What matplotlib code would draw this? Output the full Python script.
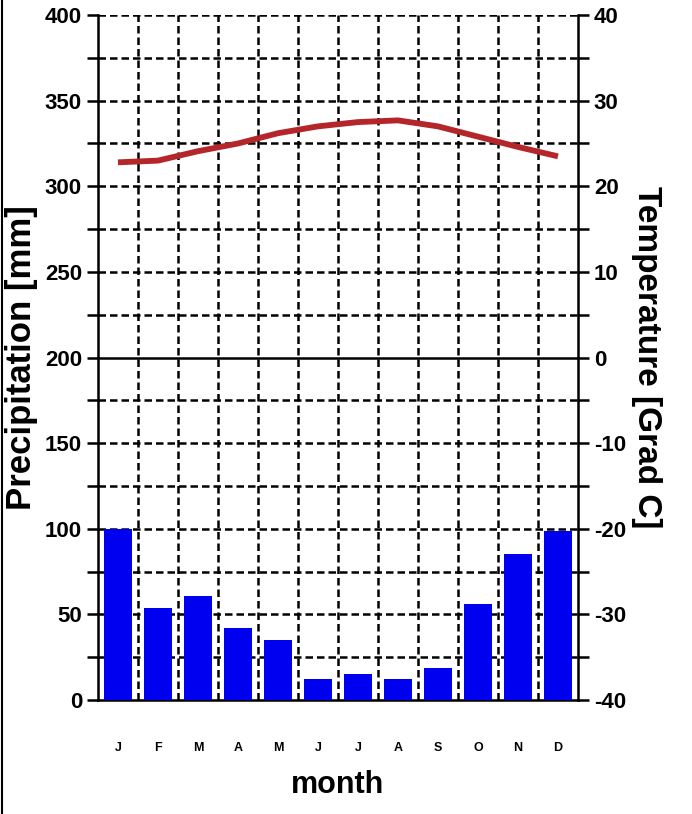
import numpy as np
import matplotlib
matplotlib.use("Agg")
import matplotlib.pyplot as plt
from matplotlib.lines import Line2D

# climate diagram data
months = ["J", "F", "M", "A", "M", "J", "J", "A", "S", "O", "N", "D"]
precip = [100, 54, 61, 42, 35, 12, 15, 12, 19, 56, 85, 99]
temp = [22.8, 23.0, 24.1, 25.0, 26.2, 27.0, 27.5, 27.7, 27.0, 25.8, 24.6, 23.5]
precip_ticks = [0, 50, 100, 150, 200, 250, 300, 350, 400]
temp_ticks = [-40, -30, -20, -10, 0, 10, 20, 30, 40]

plt.rcParams["font.family"] = ["Liberation Sans", "DejaVu Sans"]
plt.rcParams["font.weight"] = "bold"
plt.rcParams["axes.labelweight"] = "bold"
plt.rcParams["axes.unicode_minus"] = False

fig = plt.figure(figsize=(6.92, 8.14), dpi=100)
ax = fig.add_axes([0.1416, 0.140, 0.6936, 0.8415])
ax2 = ax.twinx()

x = np.arange(len(months))
ax.bar(x, precip, width=0.68, color="#0000f0", zorder=3)
ax.set_xlim(-0.5, 11.5)
ax.set_ylim(0, 400)

# dashed grid: month boundaries and every 25 mm
for b in np.arange(0.5, 11.5, 1):
    ax.axvline(b, color="black", lw=1.8, ls=(0, (3, 1.6)), zorder=1)
for h in np.arange(25, 401, 25):
    if h == 200:
        continue
    ax.axhline(h, color="black", lw=1.8, ls=(0, (3, 1.6)), zorder=1)

ax.set_yticks(precip_ticks)
ax.set_yticks(np.arange(25, 400, 50), minor=True)
ax.tick_params(axis="y", which="both", direction="out", length=8, width=1.8,
               labelsize=16)
ax.set_xticks(x)
ax.set_xticklabels(months, fontsize=9)
ax.tick_params(axis="x", length=0, pad=30)

ax.spines["top"].set_visible(False)
for s in ["left", "bottom"]:
    ax.spines[s].set_linewidth(1.8)

ax.set_ylabel("Precipitation [mm]", fontsize=25, labelpad=5)
ax.set_xlabel("month", fontsize=22, labelpad=12)

# temperature axis
ax2.set_ylim(-40, 40)
ax2.axhline(0, color="black", lw=1.8, zorder=2)
ax2.plot(x, temp, color="#b5262a", lw=4.2, solid_capstyle="butt", zorder=4)
ax2.set_yticks(temp_ticks)
ax2.set_yticks(np.arange(-35, 40, 10), minor=True)
ax2.tick_params(axis="y", which="both", direction="out", length=8, width=1.8,
                labelsize=16)
ax2.spines["top"].set_visible(False)
ax2.spines["right"].set_linewidth(1.8)
ax2.set_ylabel("Temperature [Grad C]", fontsize=24, rotation=270, labelpad=26)

# frame edge on the left of the picture
fig.add_artist(Line2D([0.003, 0.003], [0.0, 1.0], color="black", lw=1.5))

fig.savefig("out.png", dpi=100)
